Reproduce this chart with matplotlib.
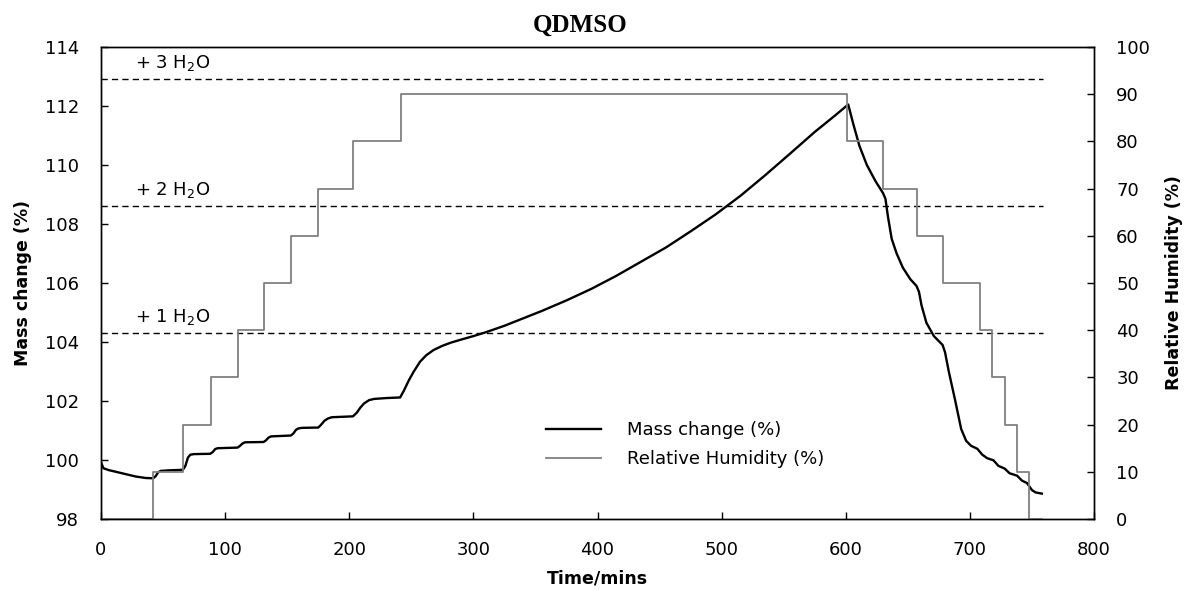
import matplotlib
matplotlib.use("Agg")
import matplotlib.pyplot as plt

# Mass change curve (time in mins, mass %)
mass_time = [0, 2, 6, 12, 20, 28, 36, 42, 44, 46, 48, 55, 62, 66, 68, 70, 72, 75, 88,
             90, 92, 94, 110, 112, 114, 116, 131, 133, 135, 137, 153, 155, 157, 159, 162,
             175, 177, 180, 183, 186, 203, 206, 209, 212, 216, 220, 230, 241, 244, 248,
             252, 257, 262, 268, 275, 282, 290, 300, 310, 325, 340, 355, 375, 395, 415,
             435, 455, 475, 495, 515, 535, 555, 575, 590, 602, 606, 611, 617, 624, 630,
             632, 634, 637, 641, 646, 652, 657, 659, 661, 665, 671, 678, 680, 683, 688,
             693, 697, 701, 706, 710, 714, 719, 723, 728, 732, 738, 742, 746, 750, 753, 758]
mass_change = [99.92, 99.72, 99.66, 99.6, 99.52, 99.44, 99.39, 99.38, 99.45, 99.58, 99.63,
               99.65, 99.66, 99.67, 99.8, 100.08, 100.18, 100.2, 100.21, 100.27, 100.37,
               100.4, 100.42, 100.48, 100.56, 100.6, 100.61, 100.67, 100.76, 100.8, 100.83,
               100.9, 101.02, 101.07, 101.09, 101.1, 101.18, 101.33, 101.41, 101.45, 101.48,
               101.6, 101.78, 101.92, 102.03, 102.07, 102.1, 102.12, 102.35, 102.7, 103.0,
               103.33, 103.55, 103.73, 103.87, 103.98, 104.08, 104.2, 104.33, 104.55, 104.8,
               105.05, 105.41, 105.8, 106.24, 106.72, 107.2, 107.75, 108.32, 108.95, 109.65,
               110.38, 111.12, 111.63, 112.05, 111.4, 110.65, 110.0, 109.45, 109.05, 108.85,
               108.25, 107.5, 107.0, 106.52, 106.13, 105.9, 105.7, 105.25, 104.65, 104.2,
               103.9, 103.65, 103.0, 102.05, 101.05, 100.65, 100.48, 100.38, 100.18, 100.06,
               99.99, 99.8, 99.71, 99.55, 99.47, 99.3, 99.22, 98.98, 98.9, 98.86]

# Relative humidity program (step starts)
rh_time = [0, 42, 66, 89, 110, 131, 153, 175, 203, 242, 601, 630, 657, 678, 708, 718,
           728, 738, 748, 758]
rh_value = [0, 10, 20, 30, 40, 50, 60, 70, 80, 90, 80, 70, 60, 50, 40, 30, 20, 10, 0, 0]

# hydrate reference levels
hydrate_levels = [104.3, 108.6, 112.9]
hydrate_labels = ["+ 1 H$_2$O", "+ 2 H$_2$O", "+ 3 H$_2$O"]

x_ticks = list(range(0, 801, 100))
mass_ticks = list(range(98, 115, 2))
rh_ticks = list(range(0, 101, 10))

W, H = 1189, 590
fig = plt.figure(figsize=(W / 100, H / 100), dpi=100)
ax = fig.add_axes([101 / W, 71 / H, 993 / W, 472 / H])
ax2 = ax.twinx()

for level, label in zip(hydrate_levels, hydrate_labels):
    ax.plot([0, 759], [level, level], color="black", lw=1.0, dashes=(4.5, 3))
    ax.text(27, level + 0.55, label, fontsize=13, va="center", ha="left")

mass_line, = ax.plot(mass_time, mass_change, color="black", lw=1.7, label="Mass change (%)")
rh_line, = ax2.plot(rh_time, rh_value, color="#808080", lw=1.3, drawstyle="steps-post",
                    clip_on=False, label="Relative Humidity (%)")

ax.set_xlim(0, 800)
ax.set_ylim(98, 114)
ax2.set_ylim(0, 100)
ax.set_xticks(x_ticks)
ax.set_yticks(mass_ticks)
ax2.set_yticks(rh_ticks)

ax.tick_params(axis="both", direction="in", length=5, width=1, labelsize=13, pad=16)
ax2.tick_params(axis="y", direction="in", length=5, width=1, labelsize=13, pad=16)
for a in (ax, ax2):
    for sp in a.spines.values():
        sp.set_linewidth(1.0)

ax.set_xlabel("Time/mins", fontsize=12.5, fontweight="bold")
ax.xaxis.set_label_coords(0.5, -0.108)
ax.set_ylabel("Mass change (%)", fontsize=12.5, fontweight="bold")
ax.yaxis.set_label_coords(-0.069, 0.5)
ax2.set_ylabel("Relative Humidity (%)", fontsize=12.5, fontweight="bold", rotation=90)
ax2.yaxis.set_label_coords(1.072, 0.5)

fig.text(580 / W, 1 - 25 / H, "QDMSO", family="Liberation Serif", fontweight="bold",
         fontsize=18, ha="center", va="center")

ax2.legend([mass_line, rh_line], ["Mass change (%)", "Relative Humidity (%)"],
           loc="upper left", bbox_to_anchor=(546 / W, 1 - 421 / H),
           bbox_transform=fig.transFigure, frameon=False, fontsize=13,
           handlelength=3.05, handletextpad=1.45, labelspacing=0.6,
           borderpad=0, borderaxespad=0)

fig.savefig("out.png", dpi=100)
